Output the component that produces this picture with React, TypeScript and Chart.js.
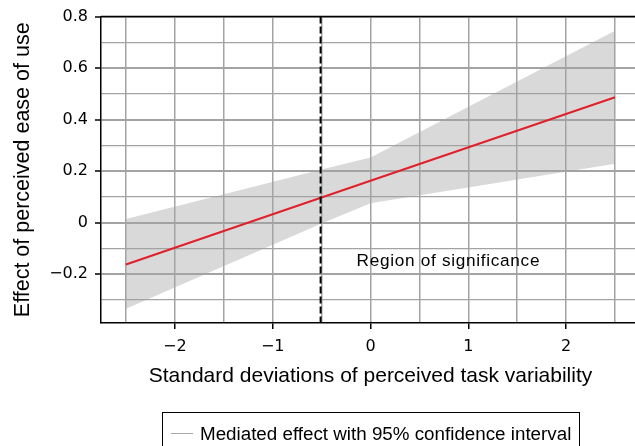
import React, { useEffect, useRef } from "react";
import { Chart, registerables } from "chart.js";

Chart.register(...registerables);

// Data
const lineX = [-2.5, 0, 2.5];
const effectY = [-0.162, 0.163, 0.487];
const bandX = [-2.5, -0.5, 0, 2.5];
const upperY = [0.015, 0.207, 0.253, 0.745];
const lowerY = [-0.334, -0.003, 0.076, 0.229];
const xTicks = [-2.5, -2, -1.5, -1, -0.5, 0, 0.5, 1, 1.5, 2, 2.5];
const yTicks = [-0.3, -0.2, -0.1, 0, 0.1, 0.2, 0.3, 0.4, 0.5, 0.6, 0.7, 0.8];
const xLabelled = [-2, -1, 0, 1, 2];
const yLabelled = [-0.2, 0, 0.2, 0.4, 0.6, 0.8];
const significanceX = -0.51;
const regionLabel = "Region of significance";
const regionLabelPos = { x: 0.796, y: -0.169 };
const xTitle = "Standard deviations of perceived task variability";
const yTitle = "Effect of perceived ease of use";
const legendText = "Mediated effect with 95% confidence interval";

const FONT = "'Liberation Sans', Arial, Helvetica, sans-serif";
const TICK_FONT = "'DejaVu Sans', 'Liberation Sans', sans-serif";

const fmt = (v: number) => {
  const r = Math.round(v * 10) / 10;
  if (r === 0) return "0";
  const s = Math.abs(r).toString();
  return r < 0 ? "\u2212" + s : s;
};
const isIn = (arr: number[], v: number) => arr.some((a) => Math.abs(a - v) < 1e-6);

const overlayPlugin = {
  id: "overlay",
  afterDraw(chart: any) {
    const { ctx, chartArea, scales } = chart;
    const xs = scales.x;
    const ys = scales.y;
    ctx.save();
    // top border
    ctx.strokeStyle = "#000";
    ctx.lineWidth = 1.5;
    ctx.beginPath();
    ctx.moveTo(chartArea.left, chartArea.top);
    ctx.lineTo(chart.width, chartArea.top);
    ctx.stroke();
    // dashed significance line
    const px = xs.getPixelForValue(significanceX);
    ctx.setLineDash([7, 3]);
    ctx.lineWidth = 2;
    ctx.beginPath();
    ctx.moveTo(px, chartArea.top);
    ctx.lineTo(px, chartArea.bottom);
    ctx.stroke();
    ctx.setLineDash([]);
    // region label
    ctx.fillStyle = "#000";
    ctx.font = `17.2px ${FONT}`;
    try {
      (ctx as any).letterSpacing = "0.7px";
    } catch (e) {}
    ctx.textAlign = "center";
    ctx.textBaseline = "alphabetic";
    ctx.fillText(regionLabel, xs.getPixelForValue(regionLabelPos.x), ys.getPixelForValue(regionLabelPos.y));
    try {
      (ctx as any).letterSpacing = "0px";
    } catch (e) {}
    // legend box
    ctx.strokeStyle = "#000";
    ctx.lineWidth = 1;
    ctx.strokeRect(162.5, 412.5, 417, 60);
    ctx.strokeStyle = "#a8a8a8";
    ctx.lineWidth = 1;
    ctx.beginPath();
    ctx.moveTo(171, 433.5);
    ctx.lineTo(193, 433.5);
    ctx.stroke();
    ctx.fillStyle = "#000";
    ctx.font = `18.8px ${FONT}`;
    ctx.textAlign = "left";
    ctx.textBaseline = "alphabetic";
    ctx.fillText(legendText, 200, 439.5);
    ctx.restore();
  },
};

export default function App() {
  const ref = useRef<HTMLCanvasElement | null>(null);
  useEffect(() => {
    if (!ref.current) return;
    const chart = new Chart(ref.current, {
      type: "line",
      data: {
        datasets: [
          {
            label: "upper",
            data: bandX.map((x, i) => ({ x, y: upperY[i] })),
            borderWidth: 0,
            pointRadius: 0,
            backgroundColor: "#d9d9d9",
            fill: "+1",
          },
          {
            label: "lower",
            data: bandX.map((x, i) => ({ x, y: lowerY[i] })),
            borderWidth: 0,
            pointRadius: 0,
            fill: false,
          },
          {
            label: "effect",
            data: lineX.map((x, i) => ({ x, y: effectY[i] })),
            borderColor: "#e0202a",
            borderWidth: 2,
            pointRadius: 0,
            fill: false,
          },
        ],
      },
      options: {
        responsive: false,
        animation: false,
        layout: { padding: { left: 0, top: 15, right: 20, bottom: 0 } },
        plugins: {
          legend: { display: false },
          tooltip: { enabled: false },
          filler: { drawTime: "beforeDraw" } as any,
        },
        scales: {
          x: {
            type: "linear",
            min: -2.755,
            max: 2.755,
            afterBuildTicks: (s: any) => {
              s.ticks = xTicks.map((v) => ({ value: v }));
            },
            afterFit: (s: any) => {
              s.height = 123;
            },
            grid: {
              color: "#a3a3a3",
              lineWidth: 1.5,
              tickLength: 6,
              tickColor: (c: any) => (c.tick && isIn(xLabelled, c.tick.value) ? "#000" : "rgba(0,0,0,0)"),
              tickWidth: 1.5,
            },
            border: { color: "#000", width: 1.5 },
            ticks: {
              autoSkip: false,
              maxRotation: 0,
              padding: 8,
              color: "#000",
              font: { family: TICK_FONT, size: 16 },
              callback: (v: any) => (isIn(xLabelled, Number(v)) ? fmt(Number(v)) : ""),
            },
            title: {
              display: true,
              text: xTitle,
              color: "#000",
              font: { family: FONT, size: 21 },
              padding: { top: 0, bottom: 57 },
            },
          },
          y: {
            type: "linear",
            min: -0.389,
            max: 0.8,
            afterBuildTicks: (s: any) => {
              s.ticks = yTicks.map((v) => ({ value: v }));
            },
            afterFit: (s: any) => {
              s.width = 101;
            },
            grid: {
              color: "#a3a3a3",
              lineWidth: (c: any) => (c.tick && isIn(yLabelled, c.tick.value) ? 2 : 1.3),
              tickLength: 6,
              tickColor: (c: any) => (c.tick && isIn(yLabelled, c.tick.value) ? "#000" : "rgba(0,0,0,0)"),
              tickWidth: 1.5,
            },
            border: { color: "#000", width: 1.5 },
            ticks: {
              autoSkip: false,
              padding: 7,
              color: "#000",
              font: { family: TICK_FONT, size: 16 },
              callback: (v: any) => (isIn(yLabelled, Number(v)) ? fmt(Number(v)) : ""),
            },
            title: {
              display: true,
              text: yTitle,
              color: "#000",
              font: { family: FONT, size: 21.5 },
              padding: { top: 10, bottom: 0 },
            },
          },
        },
      },
      plugins: [overlayPlugin],
    });
    return () => chart.destroy();
  }, []);
  return (
    <div style={{ position: "absolute", left: 0, top: 0, width: 635, height: 446, overflow: "hidden", background: "#fff" }}>
      <canvas ref={ref} width={660} height={446} style={{ display: "block" }} />
    </div>
  );
}
